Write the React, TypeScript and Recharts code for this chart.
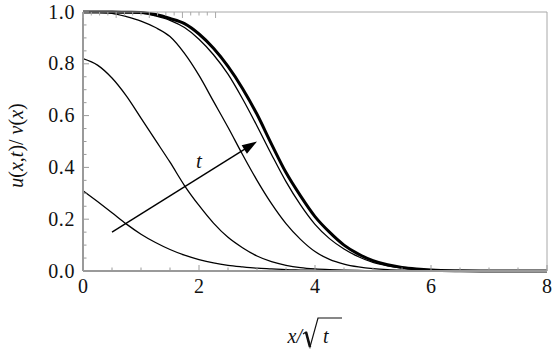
import React from 'react';
import {
  LineChart,
  Line,
  XAxis,
  YAxis,
  ReferenceLine,
  ReferenceDot,
} from 'recharts';

// x / sqrt(t) sample points
const xs = [0, 0.25, 0.5, 0.75, 1, 1.25, 1.5, 1.75, 2, 2.25, 2.5, 2.75, 3, 3.25, 3.5, 3.75, 4, 4.25, 4.5, 4.75, 5, 5.25, 5.5, 5.75, 6, 6.5, 7, 7.5, 8];

// u(x,t)/v(x) for increasing t
const curveA = [0.31, 0.268, 0.225, 0.181, 0.142, 0.11, 0.083, 0.061, 0.044, 0.031, 0.022, 0.016, 0.011, 0.008, 0.005, 0.0035, 0.002, 0.0015, 0.001, 0.0007, 0.0005, 0.0003, 0.0002, 0.0001, 0, 0, 0, 0, 0];
const curveB = [0.82, 0.795, 0.745, 0.675, 0.59, 0.505, 0.42, 0.33, 0.253, 0.185, 0.13, 0.09, 0.058, 0.036, 0.022, 0.013, 0.008, 0.005, 0.003, 0.002, 0.001, 0.0006, 0.0004, 0.0002, 0.0001, 0, 0, 0, 0];
const curveC = [1.0, 0.999, 0.995, 0.982, 0.965, 0.94, 0.905, 0.84, 0.755, 0.655, 0.555, 0.45, 0.35, 0.26, 0.183, 0.122, 0.075, 0.045, 0.027, 0.016, 0.009, 0.005, 0.003, 0.002, 0.001, 0, 0, 0, 0];
const curveD = [1.0, 1.0, 0.999, 0.998, 0.996, 0.985, 0.968, 0.94, 0.895, 0.835, 0.76, 0.665, 0.56, 0.45, 0.345, 0.255, 0.18, 0.125, 0.085, 0.055, 0.033, 0.02, 0.011, 0.006, 0.003, 0.001, 0, 0, 0];
// steady state (thick)
const curveE = [1.0, 1.0, 1.0, 0.999, 0.998, 0.99, 0.975, 0.955, 0.915, 0.86, 0.79, 0.705, 0.605, 0.49, 0.38, 0.29, 0.21, 0.15, 0.1, 0.065, 0.04, 0.024, 0.014, 0.008, 0.004, 0.001, 0, 0, 0];

const xTicks = [0, 0.5, 1, 1.5, 2, 2.5, 3, 3.5, 4, 4.5, 5, 5.5, 6, 6.5, 7, 7.5, 8];
const xLabels = [0, 2, 4, 6, 8];
const yTicks = [0, 0.05, 0.1, 0.15, 0.2, 0.25, 0.3, 0.35, 0.4, 0.45, 0.5, 0.55, 0.6, 0.65, 0.7, 0.75, 0.8, 0.85, 0.9, 0.95, 1.0];
const yLabels = [0, 0.2, 0.4, 0.6, 0.8, 1.0];

// arrow showing direction of increasing t
const arrowFrom = { x: 0.5, y: 0.15 };
const arrowTo = { x: 3.0, y: 0.5 };
const tLabelAt = { x: 2.0, y: 0.42 };

const data = xs.map((x, i) => ({
  x,
  a: curveA[i],
  b: curveB[i],
  c: curveC[i],
  d: curveD[i],
  e: curveE[i],
}));

const SERIF = '"Liberation Serif", "Times New Roman", serif';
const AXIS_GRAY = '#9a9a9a';
const FRAME_GRAY = '#a8a8a8';

// force the serif face even if some stylesheet overrides svg text fonts
const serifRef = (el: SVGTextElement | null) => {
  if (el) el.style.setProperty('font-family', SERIF, 'important');
};

const isLabel = (v: number, list: number[]) => list.some((l) => Math.abs(l - v) < 1e-6);

const BottomTick = (props: any) => {
  const { x, y, payload } = props;
  const major = isLabel(payload.value, xLabels);
  return (
    <g>
      <line x1={x} x2={x} y1={y} y2={y - (major ? 6 : 3.5)} stroke={AXIS_GRAY} />
      {major && (
        <text ref={serifRef} x={x} y={y + 22} textAnchor="middle" fontFamily={SERIF} fontSize={20} fill="#111">
          {payload.value}
        </text>
      )}
    </g>
  );
};

const TopTick = (props: any) => {
  const { x, y, payload } = props;
  const major = isLabel(payload.value, xLabels);
  return <line x1={x} x2={x} y1={y} y2={y + (major ? 6 : 3.5)} stroke={FRAME_GRAY} />;
};

const LeftTick = (props: any) => {
  const { x, y, payload } = props;
  const major = isLabel(payload.value, yLabels);
  return (
    <g>
      <line x1={x} x2={x + (major ? 6 : 3.5)} y1={y} y2={y} stroke={AXIS_GRAY} />
      {major && (
        <text ref={serifRef} x={x - 8} y={y + 6.5} textAnchor="end" fontFamily={SERIF} fontSize={20} letterSpacing={0.6} fill="#111">
          {payload.value.toFixed(1)}
        </text>
      )}
    </g>
  );
};

const RightTick = (props: any) => {
  const { x, y, payload } = props;
  const major = isLabel(payload.value, yLabels);
  return <line x1={x} x2={x - (major ? 6 : 3.5)} y1={y} y2={y} stroke={FRAME_GRAY} />;
};

const YTitle = (props: any) => {
  const { x, y, height } = props.viewBox;
  const cx = x + 23;
  const cy = y + height / 2 + 4;
  return (
    <text
      ref={serifRef}
      x={cx}
      y={cy}
      transform={`rotate(-90 ${cx} ${cy})`}
      textAnchor="middle"
      fontFamily={SERIF}
      fontSize={20}
      fill="#111"
    >
      <tspan fontStyle="italic">u</tspan>
      <tspan>(</tspan>
      <tspan fontStyle="italic">x</tspan>
      <tspan>,</tspan>
      <tspan fontStyle="italic">t</tspan>
      <tspan>)/ </tspan>
      <tspan fontStyle="italic">v</tspan>
      <tspan>(</tspan>
      <tspan fontStyle="italic">x</tspan>
      <tspan>)</tspan>
    </text>
  );
};

const XTitle = (props: any) => {
  const { x, y, width } = props.viewBox;
  const cx = x + width / 2;
  const base = y + 72;
  return (
    <g fill="#111">
      <text ref={serifRef} x={cx - 13} y={base} textAnchor="end" fontFamily={SERIF} fontSize={20} fontStyle="italic">
        x/
      </text>
      <path
        d={`M ${cx - 12} ${base - 9} L ${cx - 9} ${base - 11} L ${cx - 5} ${base + 4} L ${cx + 3} ${base - 25} L ${cx + 27} ${base - 25}`}
        fill="none"
        stroke="#111"
        strokeWidth={1.2}
      />
      <path d={`M ${cx - 9} ${base - 11} L ${cx - 5} ${base + 4}`} fill="none" stroke="#111" strokeWidth={2.6} />
      <text ref={serifRef} x={cx + 8} y={base} fontFamily={SERIF} fontSize={20} fontStyle="italic">
        t
      </text>
    </g>
  );
};

const Arrow = (props: any) => {
  const { x1, y1, x2, y2 } = props;
  const dx = x2 - x1;
  const dy = y2 - y1;
  const len = Math.sqrt(dx * dx + dy * dy);
  const ux = dx / len;
  const uy = dy / len;
  const head = 15;
  const half = 5;
  const bx = x2 - ux * head;
  const by = y2 - uy * head;
  const p1 = `${bx - uy * half},${by + ux * half}`;
  const p2 = `${bx + uy * half},${by - ux * half}`;
  return (
    <g>
      <line x1={x1} y1={y1} x2={bx + ux * 2} y2={by + uy * 2} stroke="#000" strokeWidth={1.4} />
      <polygon points={`${x2},${y2} ${p1} ${p2}`} fill="#000" />
    </g>
  );
};

const TLabel = (props: any) => {
  const { x, y, width, height } = props.viewBox;
  return (
    <text ref={serifRef} x={x + width / 2} y={y + height / 2 + 6} textAnchor="middle" fontFamily={SERIF} fontSize={21} fontStyle="italic" fill="#111">
      t
    </text>
  );
};

const css = `#root svg text, #root svg tspan { font-family: "Liberation Serif", "Times New Roman", serif !important; }`;

export default function App() {
  return (
    <div style={{ position: 'absolute', left: 0, top: 0, width: 554, height: 355, background: '#fff' }}>
      <style>{css}</style>
      <LineChart width={554} height={355} data={data} margin={{ top: 0, right: 0, bottom: 0, left: 0 }}>
        <XAxis
          dataKey="x"
          type="number"
          domain={[0, 8]}
          ticks={xTicks}
          interval={0}
          height={84}
          tickSize={0}
          tickMargin={0}
          tickLine={false}
          tick={<BottomTick />}
          axisLine={{ stroke: AXIS_GRAY, strokeWidth: 2 }}
          label={<XTitle />}
        />
        <XAxis
          xAxisId="top"
          orientation="top"
          type="number"
          domain={[0, 8]}
          ticks={xTicks}
          interval={0}
          height={12}
          tickSize={0}
          tickMargin={0}
          tickLine={false}
          tick={<TopTick />}
          axisLine={{ stroke: FRAME_GRAY, strokeWidth: 1 }}
        />
        <YAxis
          type="number"
          domain={[0, 1]}
          ticks={yTicks}
          interval={0}
          width={83}
          tickSize={0}
          tickMargin={0}
          tickLine={false}
          tick={<LeftTick />}
          axisLine={{ stroke: AXIS_GRAY, strokeWidth: 2 }}
          label={<YTitle />}
        />
        <YAxis
          yAxisId="right"
          orientation="right"
          type="number"
          domain={[0, 1]}
          ticks={yTicks}
          interval={0}
          width={7}
          tickSize={0}
          tickMargin={0}
          tickLine={false}
          tick={<RightTick />}
          axisLine={{ stroke: FRAME_GRAY, strokeWidth: 1 }}
        />
        <Line type="monotone" dataKey="a" stroke="#000" strokeWidth={1.3} dot={false} isAnimationActive={false} />
        <Line type="monotone" dataKey="b" stroke="#000" strokeWidth={1.3} dot={false} isAnimationActive={false} />
        <Line type="monotone" dataKey="c" stroke="#000" strokeWidth={1.3} dot={false} isAnimationActive={false} />
        <Line type="monotone" dataKey="d" stroke="#000" strokeWidth={1.3} dot={false} isAnimationActive={false} />
        <Line type="monotone" dataKey="e" stroke="#000" strokeWidth={3} dot={false} isAnimationActive={false} />
        <ReferenceLine segment={[arrowFrom, arrowTo]} shape={<Arrow />} ifOverflow="visible" />
        <ReferenceDot
          x={tLabelAt.x}
          y={tLabelAt.y}
          r={0}
          fill="none"
          stroke="none"
          label={<TLabel />}
        />
      </LineChart>
    </div>
  );
}
